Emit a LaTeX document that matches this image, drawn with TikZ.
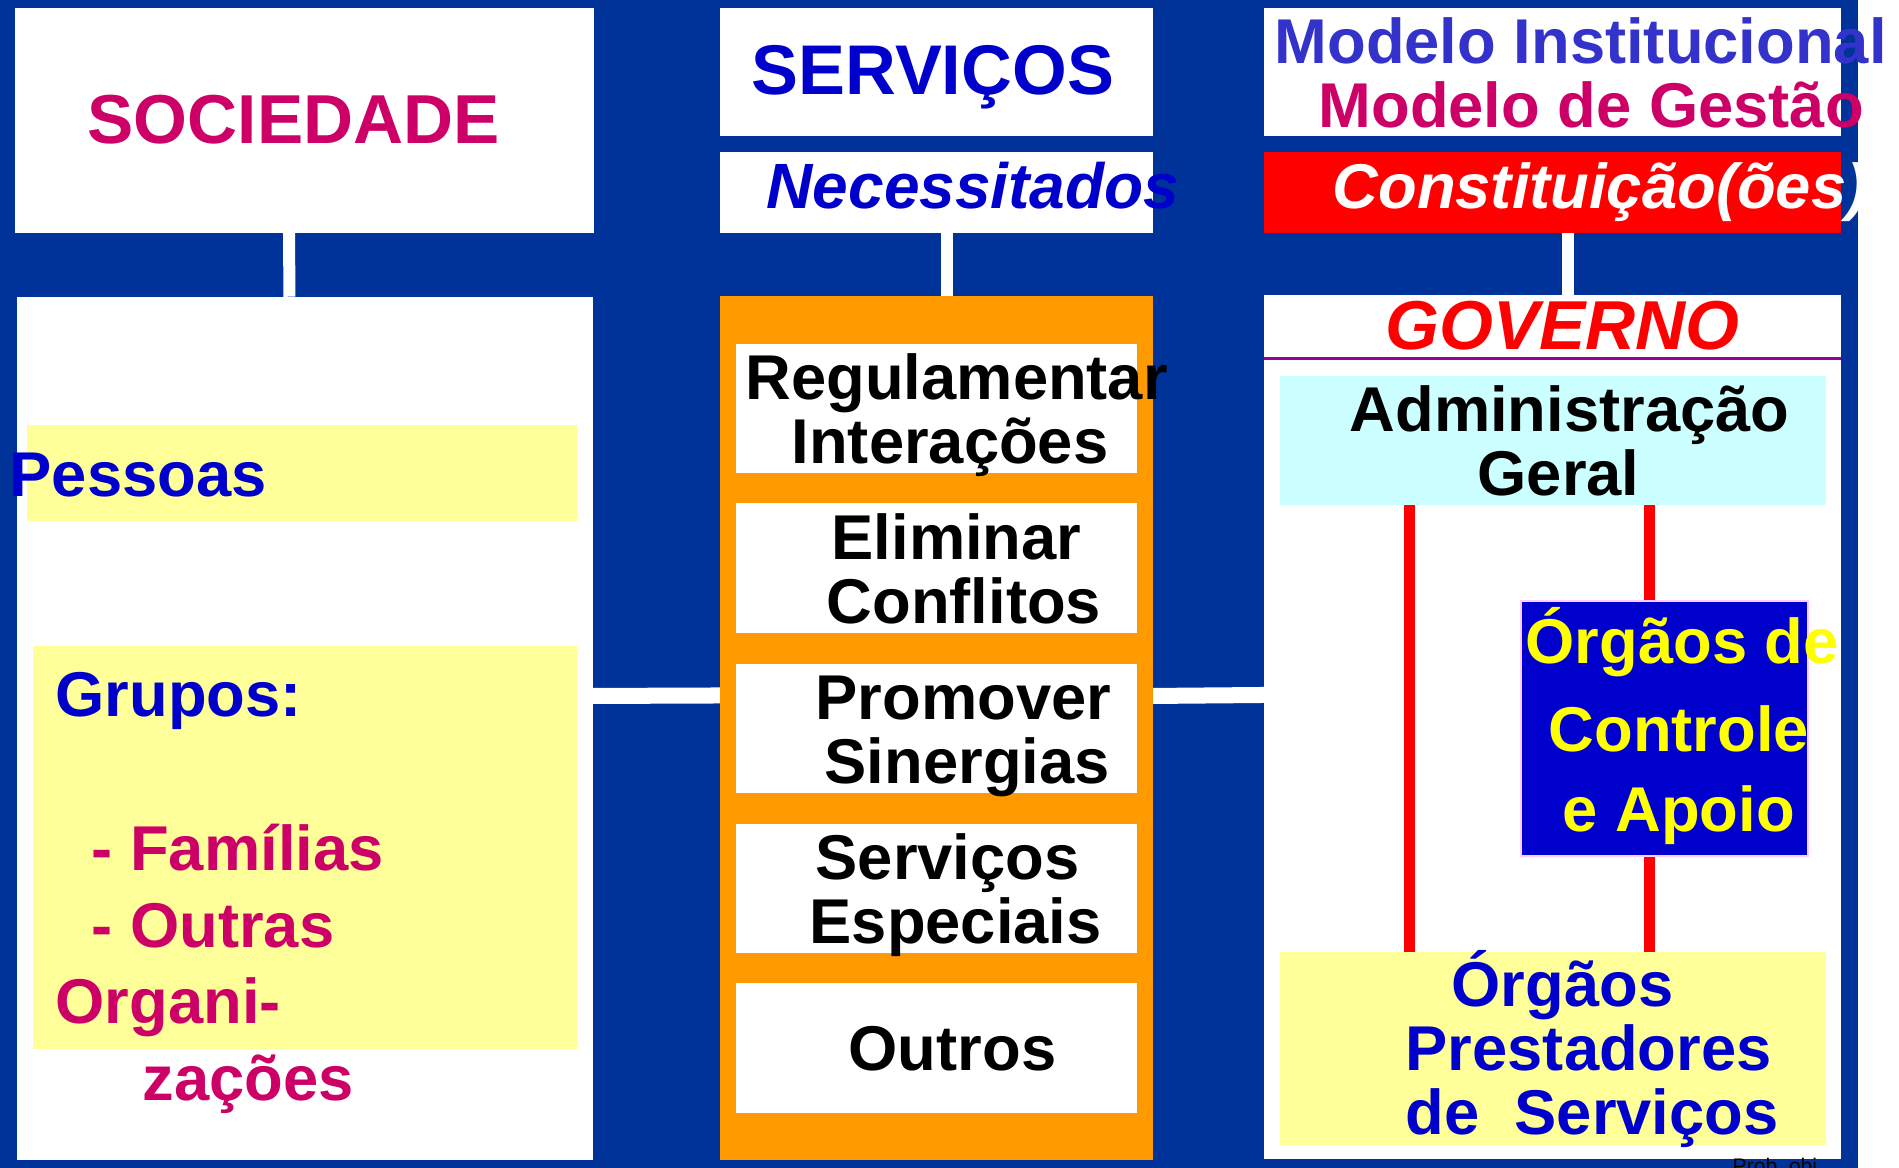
\documentclass[tikz,border=0pt]{standalone}
\usepackage{fontspec}
\setmainfont{Liberation Sans}
\usepackage{tikz}
\definecolor{fundo}{RGB}{0,51,153}
\definecolor{azul}{RGB}{0,0,204}
\definecolor{anil}{RGB}{51,51,204}
\definecolor{rosa}{RGB}{204,0,102}
\definecolor{laranja}{RGB}{255,153,0}
\definecolor{amarelo}{RGB}{255,255,153}
\definecolor{ciano}{RGB}{204,255,255}
\definecolor{roxo}{RGB}{153,0,153}
\definecolor{lilas}{RGB}{255,204,255}
\definecolor{ouro}{RGB}{255,255,0}

\begin{document}
\begin{tikzpicture}[x=0.01cm,y=-0.01cm]
\tikzstyle{caixa}=[rectangle,inner sep=0pt,outer sep=0pt]
\tikzstyle{txt}=[inner sep=0pt,anchor=base west,font=\bfseries\fontsize{18}{18}\selectfont]
\tikzstyle{titulo}=[inner sep=0pt,anchor=base west,font=\bfseries\fontsize{19.7}{19.7}\selectfont]
\tikzstyle{link}=[white,line width=0.12cm]
\tikzstyle{redline}=[red,line width=0.11cm]
\useasboundingbox (0,0) rectangle (1899,1168);
\fill[white] (0,0) rectangle (1899,1168);
\fill[fundo] (0,0) rectangle (1858,1168);
% left column
\node[caixa,fill=white,minimum width=5.79cm,minimum height=2.25cm] (soc) at (304.5,120.5) {};
\node[caixa,fill=white,minimum width=5.76cm,minimum height=8.63cm] (pop) at (305,728.5) {};
\node[caixa,fill=amarelo,minimum width=5.5cm,minimum height=0.96cm] (pesbox) at (302,473) {};
\node[caixa,fill=amarelo,minimum width=5.44cm,minimum height=4.03cm] (grubox) at (305,847.5) {};
\node[titulo,rosa] (tsoc) at (87,143.5) {SOCIEDADE};
\node[txt,azul] (pes) at (9,497) {Pessoas};
\node[txt,azul] (gru) at (55,717) {Grupos:};
\foreach \name/\x/\y/\t in {fam/91/871/- Famílias, outr/91/948/- Outras, org/55/1024/Organi-, zac/142/1101/zações}
	\node[txt,rosa] (\name) at (\x,\y) {\t};
% middle column
\node[caixa,fill=white,minimum width=4.33cm,minimum height=1.28cm] (serv) at (936.5,72) {};
\node[caixa,fill=white,minimum width=4.33cm,minimum height=0.81cm] (nec) at (936.5,192.5) {};
\node[caixa,fill=laranja,minimum width=4.33cm,minimum height=8.64cm] (lar) at (936.5,728) {};
\foreach \name/\y in {reg/408.5,eli/568,pro/728.5,esp/888.5,out/1048}
	\node[caixa,fill=white,minimum width=4.01cm,minimum height=1.29cm] (\name) at (936.5,\y) {};
\node[titulo,azul,font=\bfseries\fontsize{20}{20}\selectfont] (tserv) at (751,95) {SERVIÇOS};
\node[txt,azul,font=\bfseries\itshape\fontsize{18.2}{18.2}\selectfont] (tnec) at (766,209) {Necessitados};
\foreach \name/\x/\y/\t in {
	r1/745/400/Regulamentar,
	r2/791/464/Interações,
	e1/831/560/Eliminar,
	e2/826/624/Conflitos,
	p1/815/719.5/Promover,
	p2/824/784/Sinergias,
	s1/815/880/Serviços,
	s2/809/944/Especiais,
	o1/848/1071/Outros}
	\node[txt] (\name) at (\x,\y) {\t};
% right column
\node[caixa,fill=white,minimum width=5.77cm,minimum height=1.28cm] (mod) at (1552.5,72) {};
\node[caixa,fill=red,minimum width=5.77cm,minimum height=0.81cm] (con) at (1552.5,192.5) {};
\node[caixa,fill=white,minimum width=5.77cm,minimum height=8.64cm] (gov) at (1552.5,727) {};
\draw[roxo,line width=0.03cm] ([yshift=-0.64cm]gov.north west) -- ([yshift=-0.64cm]gov.north east);
\node[caixa,fill=ciano,minimum width=5.46cm,minimum height=1.29cm] (adm) at (1553,440.5) {};
\node[caixa,fill=amarelo,minimum width=5.46cm,minimum height=1.93cm] (pre) at (1553,1048.5) {};
\node[txt,anil] (mod1) at (1274,64) {Modelo Institucional};
\node[txt,rosa] (mod2) at (1318,128) {Modelo de Gestão};
\node[txt,white,font=\bfseries\itshape\fontsize{18}{18}\selectfont] (tcon) at (1332,209) {Constituição(ões)};
\node[titulo,red,font=\bfseries\itshape\fontsize{19.7}{19.7}\selectfont] (tgov) at (1385,350) {GOVERNO};
\node[txt] (adm1) at (1349,432) {Administração};
\node[txt] (adm2) at (1477,496) {Geral};
\draw[redline] ([xshift=-1.43cm]adm.south) -- ([xshift=-1.43cm]pre.north);
\draw[redline] ([xshift=0.96cm]adm.south) -- ([xshift=0.96cm]pre.north);
\node[caixa,fill=azul,draw=lilas,line width=0.02cm,minimum width=2.87cm,minimum height=2.55cm] (ctl) at (1664.5,728.5) {};
\foreach \name/\x/\y/\t in {c1/1525/664/Órgãos de, c2/1548/752/Controle, c3/1562/832/e Apoio}
	\node[txt,ouro] (\name) at (\x,\y) {\t};
\foreach \name/\x/\y/\t in {g1/1451/1007/Órgãos, g2/1405/1071/Prestadores, g3/1405/1135/de\ \ Serviços}
	\node[txt,azul] (\name) at (\x,\y) {\t};
\node[inner sep=0pt,anchor=base west,font=\fontsize{6}{6}\selectfont] (prob) at (1732,1174) {Prob\_obj};
% connectors
\draw[link] ([xshift=-0.155cm]soc.south) -- ([xshift=-0.155cm]pop.north);
\draw[link] ([xshift=0.105cm]nec.south) -- ([xshift=0.105cm]lar.north);
\draw[link] ([xshift=0.155cm]con.south) -- ([xshift=0.155cm]gov.north);
\draw[link,line width=0.16cm] ([yshift=0.325cm]pop.east) -- ([yshift=0.325cm]lar.west);
\draw[link,line width=0.16cm] ([yshift=0.32cm]lar.east) -- ([yshift=0.32cm]gov.west);
\end{tikzpicture}
\end{document}
